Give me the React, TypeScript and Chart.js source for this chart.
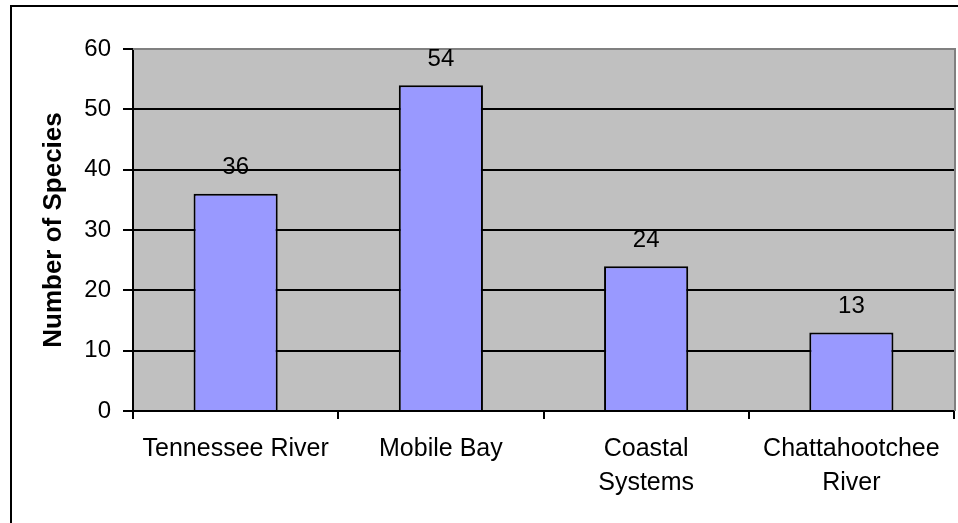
import React, { useEffect, useRef } from "react";
import { Chart, registerables } from "chart.js";

Chart.register(...registerables);

const categories: (string | string[])[] = [
  "Tennessee River",
  "Mobile Bay",
  ["Coastal", "Systems"],
  ["Chattahootchee", "River"],
];
const speciesCounts: number[] = [36, 54, 24, 13];
const yTicks = { min: 0, max: 60, step: 10 };
const yAxisTitle = "Number of Species";

const FONT = "'Liberation Sans', Arial, sans-serif";

const framePlugin = {
  id: "frame",
  beforeDraw(chart: any) {
    const { ctx, chartArea, width, height } = chart;
    ctx.save();
    ctx.fillStyle = "#ffffff";
    ctx.fillRect(0, 0, width, height);
    // outer border (left & top visible)
    ctx.strokeStyle = "#000000";
    ctx.lineWidth = 2;
    ctx.beginPath();
    ctx.moveTo(11, height);
    ctx.lineTo(11, 6);
    ctx.lineTo(width, 6);
    ctx.stroke();
    // plot area
    ctx.fillStyle = "#C0C0C0";
    ctx.fillRect(chartArea.left, chartArea.top, chartArea.right - chartArea.left, chartArea.bottom - chartArea.top);
    ctx.restore();
  },
  beforeDatasetsDraw(chart: any) {
    const { ctx, chartArea } = chart;
    ctx.save();
    ctx.strokeStyle = "#808080";
    ctx.lineWidth = 2;
    ctx.beginPath();
    ctx.moveTo(chartArea.left, chartArea.top);
    ctx.lineTo(chartArea.right + 1, chartArea.top);
    ctx.lineTo(chartArea.right + 1, chartArea.bottom);
    ctx.stroke();
    ctx.restore();
  },
  afterDatasetsDraw(chart: any) {
    const { ctx } = chart;
    const meta = chart.getDatasetMeta(0);
    const data = chart.data.datasets[0].data as number[];
    ctx.save();
    ctx.fillStyle = "#000000";
    ctx.font = `24px ${FONT}`;
    ctx.textAlign = "center";
    ctx.textBaseline = "alphabetic";
    meta.data.forEach((bar: any, i: number) => {
      ctx.fillText(String(data[i]), bar.x, bar.y - 19.5);
    });
    ctx.restore();
  },
};

export default function App() {
  const canvasRef = useRef<HTMLCanvasElement | null>(null);

  useEffect(() => {
    if (!canvasRef.current) return;
    const chart = new Chart(canvasRef.current, {
      type: "bar",
      data: {
        labels: categories,
        datasets: [
          {
            data: speciesCounts,
            backgroundColor: "#9999FF",
            borderColor: "#000000",
            borderWidth: 2,
            barPercentage: 1,
            categoryPercentage: 0.41,
          },
        ],
      },
      options: {
        responsive: false,
        animation: false,
        devicePixelRatio: 1,
        layout: { padding: { left: 0, top: 49, right: 4, bottom: 0 } },
        plugins: {
          legend: { display: false },
          tooltip: { enabled: false },
          title: { display: false },
        },
        scales: {
          x: {
            z: 1,
            offset: true,
            grid: {
              offset: true,
              drawOnChartArea: false,
              drawTicks: true,
              tickLength: 8,
              color: "#000000",
              lineWidth: 2,
            },
            border: { display: true, color: "#000000", width: 2 },
            ticks: {
              color: "#000000",
              font: { family: FONT, size: 25, lineHeight: 1.36 },
              padding: 13,
              maxRotation: 0,
              minRotation: 0,
              autoSkip: false,
            },
            afterFit: (scale: any) => {
              scale.height = 112;
            },
          },
          y: {
            min: yTicks.min,
            max: yTicks.max,
            grid: {
              color: (c: any) => (c.tick && c.tick.value === yTicks.max ? "#808080" : "#000000"),
              tickColor: "#000000",
              lineWidth: 2,
              tickLength: 10,
              drawTicks: true,
            },
            border: { display: true, color: "#000000", width: 2 },
            ticks: {
              stepSize: yTicks.step,
              color: "#000000",
              font: { family: FONT, size: 24 },
              padding: 12,
            },
            title: {
              display: true,
              text: yAxisTitle,
              color: "#000000",
              font: { family: FONT, size: 26, weight: "bold" },
              padding: { top: 38, bottom: 0 },
            },
            afterFit: (scale: any) => {
              scale.width = 133;
            },
          },
        },
      },
      plugins: [framePlugin],
    });
    return () => chart.destroy();
  }, []);

  return (
    <div style={{ position: "absolute", left: 0, top: 0, width: 958, height: 523 }}>
      <canvas ref={canvasRef} width={958} height={523} style={{ width: 958, height: 523 }} />
    </div>
  );
}
